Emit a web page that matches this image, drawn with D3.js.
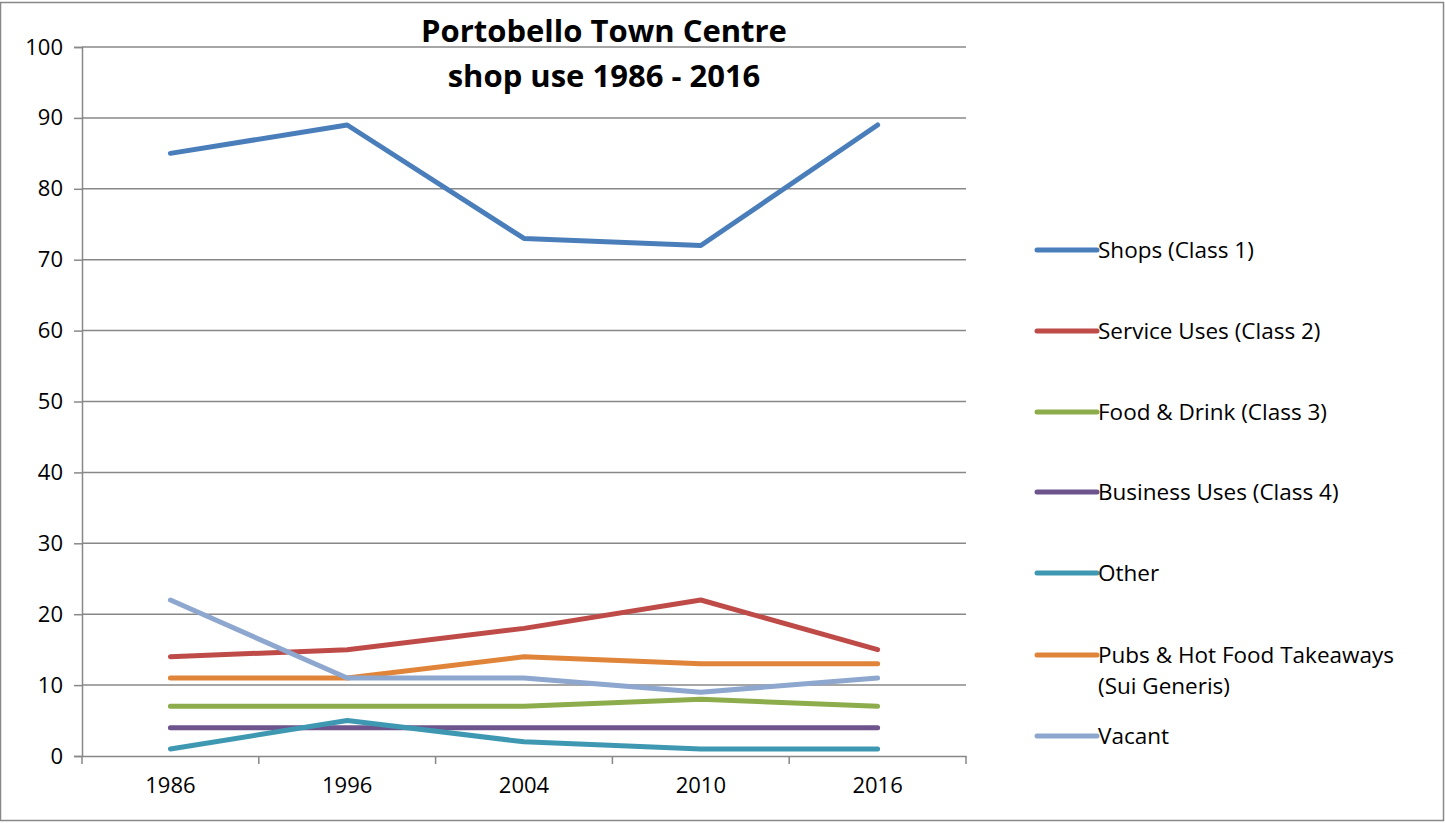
<!DOCTYPE html>
<html>
<head>
<meta charset="utf-8">
<script src="https://cdn.jsdelivr.net/npm/d3@7"></script>
<style>
  body { margin: 0; background: #fff; }
  text { font-family: "Open Sans", sans-serif; fill: #000; }
</style>
</head>
<body>
<div id="chart"></div>
<script>
// data
var years = ['1986', '1996', '2004', '2010', '2016'];
var seriesNames = ['Shops (Class 1)', 'Service Uses (Class 2)', 'Food & Drink (Class 3)',
  'Business Uses (Class 4)', 'Other', 'Pubs & Hot Food Takeaways (Sui Generis)', 'Vacant'];
var shops = [85, 89, 73, 72, 89];
var service = [14, 15, 18, 22, 15];
var food = [7, 7, 7, 8, 7];
var business = [4, 4, 4, 4, 4];
var other = [1, 5, 2, 1, 1];
var pubs = [11, 11, 14, 13, 13];
var vacant = [22, 11, 11, 9, 11];
var yTicks = [0, 10, 20, 30, 40, 50, 60, 70, 80, 90, 100];
var colors = ['#4A7EBB', '#BE4B48', '#8DAC4B', '#6E548D', '#3E98B2', '#E0843A', '#8EA7CE'];

var series = [shops, service, food, business, other, pubs, vacant].map(function(v, i) {
  return { name: seriesNames[i], values: v, color: colors[i] };
});

var width = 1445, height = 823;
var svg = d3.select('#chart').append('svg')
  .attr('width', width)
  .attr('height', height);

// outer frame
svg.append('rect')
  .attr('x', 0.5).attr('y', 2.5)
  .attr('width', 1443).attr('height', 818)
  .attr('fill', 'none').attr('stroke', '#888').attr('stroke-width', 1.5);

var plotL = 82, plotR = 966, plotT = 47, plotB = 756;

var x = d3.scaleBand().domain(years).range([plotL, plotR]);
var y = d3.scaleLinear().domain([0, 100]).range([plotB, plotT]);

// gridlines
svg.append('g').selectAll('line')
  .data(yTicks.slice(1))
  .enter()
  .append('line')
  .attr('x1', plotL).attr('x2', plotR)
  .attr('y1', function(d) { return y(d); })
  .attr('y2', function(d) { return y(d); })
  .attr('stroke', '#888').attr('stroke-width', 1.5);

// y axis
var yAxis = svg.append('g')
  .attr('transform', 'translate(' + plotL + ',0)')
  .call(d3.axisLeft(y).tickValues(yTicks).tickSize(8).tickPadding(11));
yAxis.selectAll('text').style('font-size', '22px');

// x axis, ticks between categories
var xAxis = svg.append('g')
  .attr('transform', 'translate(0,' + plotB + ')')
  .call(d3.axisBottom(x).tickSize(0).tickPadding(21));
xAxis.selectAll('text').style('font-size', '22px');
xAxis.selectAll('.tick').append('line')
  .attr('x1', -x.bandwidth() / 2).attr('x2', -x.bandwidth() / 2)
  .attr('y1', 0).attr('y2', 8)
  .attr('stroke', '#888').attr('stroke-width', 1.5);
xAxis.append('line')
  .attr('x1', plotR).attr('x2', plotR).attr('y1', 0).attr('y2', 8)
  .attr('stroke', '#888').attr('stroke-width', 1.5);
svg.selectAll('.domain').attr('stroke', '#888').attr('stroke-width', 1.5);
yAxis.selectAll('.tick line').attr('stroke', '#888').attr('stroke-width', 1.5);

// lines
var line = d3.line()
  .x(function(d, i) { return x(years[i]) + x.bandwidth() / 2; })
  .y(function(d) { return y(d); });

svg.append('g').selectAll('path')
  .data(series)
  .enter()
  .append('path')
  .attr('d', function(d) { return line(d.values); })
  .attr('fill', 'none')
  .attr('stroke', function(d) { return d.color; })
  .attr('stroke-width', 5)
  .attr('stroke-linecap', 'round')
  .attr('stroke-linejoin', 'round');

// title
var title = svg.append('text')
  .attr('text-anchor', 'middle')
  .style('font-size', '31px')
  .style('font-weight', 'bold');
title.append('tspan').attr('x', 604).attr('y', 42).text('Portobello Town Centre');
title.append('tspan').attr('x', 604).attr('y', 87).text('shop use 1986 - 2016');

// legend
var legendY = [250, 331, 412, 492, 573, 655, 736];
var legend = svg.append('g').selectAll('g')
  .data(series)
  .enter()
  .append('g')
  .attr('transform', function(d, i) { return 'translate(1037,' + legendY[i] + ')'; });

legend.append('line')
  .attr('x1', 0).attr('x2', 60)
  .attr('stroke', function(d) { return d.color; })
  .attr('stroke-width', 5)
  .attr('stroke-linecap', 'round');

legend.append('text')
  .attr('x', 61).attr('y', 8)
  .style('font-size', '22.5px')
  .each(function(d) {
    var t = d3.select(this);
    if (d.name.indexOf('(Sui') > 0) {
      t.append('tspan').attr('x', 61).text('Pubs & Hot Food Takeaways');
      t.append('tspan').attr('x', 61).attr('dy', 31).text('(Sui Generis)');
    } else {
      t.text(d.name);
    }
  });
</script>
</body>
</html>
